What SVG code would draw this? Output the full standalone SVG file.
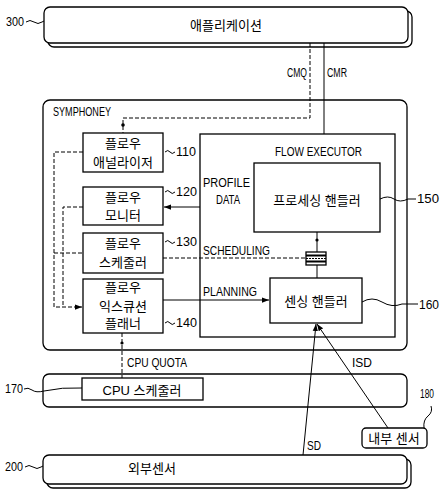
<svg xmlns="http://www.w3.org/2000/svg" width="444" height="500" viewBox="0 0 444 500">
<style>
  .box{fill:#fff;stroke:#000;stroke-width:1.3}
  .shadow{fill:none;stroke:#000;stroke-width:1.3}
  .ln{fill:none;stroke:#000;stroke-width:1}
  .dash{fill:none;stroke:#000;stroke-width:1;stroke-dasharray:4 2}
  .ko{font-family:"Liberation Sans","Noto Sans CJK KR",sans-serif;font-size:13px;fill:#000;text-anchor:middle;dominant-baseline:central}
  .en{font-family:"Liberation Sans","Noto Sans CJK KR",sans-serif;font-size:12px;fill:#000;dominant-baseline:central}
  .mid{text-anchor:middle}
</style>
<defs>
  <marker id="arr" viewBox="0 0 8 8" refX="8" refY="4" markerWidth="7" markerHeight="7" orient="auto" markerUnits="userSpaceOnUse">
    <path d="M0,1 L8,4 L0,7 z" fill="#000"/>
  </marker>
</defs>
<rect width="444" height="500" fill="#fff"/>

<g id="app300">
  <rect class="shadow" x="48" y="11" width="364" height="36" rx="6"/>
  <rect class="box" x="44" y="7" width="364" height="36" rx="6"/>
  <text class="ko" x="226" y="25">애플리케이션</text>
  <text class="en" x="6" y="22" textLength="18" lengthAdjust="spacingAndGlyphs">300</text>
  <path class="ln" d="M26,22 q4,-3 8,0 t8,0 l2,-1"/>
</g>

<g id="symphoney">
  <rect class="box" x="43" y="100" width="364" height="250" rx="7"/>
  <text class="en" x="53" y="112" textLength="58" lengthAdjust="spacingAndGlyphs">SYMPHONEY</text>
</g>

<g id="flowexecutor">
  <rect class="box" x="200" y="134" width="195" height="203"/>
  <text class="en" x="275" y="152" textLength="87" lengthAdjust="spacingAndGlyphs">FLOW EXECUTOR</text>
</g>

<g id="n110">
  <rect class="box" x="83" y="133" width="80" height="39"/>
  <text class="ko" x="123" y="143">플로우</text>
  <text class="ko" x="123" y="162">애널라이저</text>
  <path class="ln" d="M165,152 q3,-3 5,0 t5,0"/>
  <text class="en" x="176" y="152" textLength="20" lengthAdjust="spacingAndGlyphs">110</text>
</g>
<g id="n120">
  <rect class="box" x="83" y="187" width="80" height="38"/>
  <text class="ko" x="123" y="197">플로우</text>
  <text class="ko" x="123" y="215">모니터</text>
  <path class="ln" d="M165,192 q3,-3 5,0 t5,0"/>
  <text class="en" x="176" y="192" textLength="21" lengthAdjust="spacingAndGlyphs">120</text>
</g>
<g id="n130">
  <rect class="box" x="83" y="233" width="80" height="40"/>
  <text class="ko" x="123" y="243">플로우</text>
  <text class="ko" x="123" y="262">스케줄러</text>
  <path class="ln" d="M165,242 q3,-3 5,0 t5,0"/>
  <text class="en" x="176" y="242" textLength="21" lengthAdjust="spacingAndGlyphs">130</text>
</g>
<g id="n140">
  <rect class="box" x="83" y="279" width="80" height="54"/>
  <text class="ko" x="123" y="287">플로우</text>
  <text class="ko" x="123" y="306">익스큐션</text>
  <text class="ko" x="123" y="323">플래너</text>
  <path class="ln" d="M165,323 q3,-3 5,0 t5,0"/>
  <text class="en" x="176" y="323" textLength="21" lengthAdjust="spacingAndGlyphs">140</text>
</g>

<g id="n150">
  <rect class="box" x="254" y="163" width="126" height="69"/>
  <text class="ko" x="317" y="200">프로세싱 핸들러</text>
  <path class="ln" d="M380,199 q8,-4 14,0 t14,0 l8,0"/>
  <text class="en" x="417" y="199" textLength="22" lengthAdjust="spacingAndGlyphs">150</text>
</g>
<g id="queue">
  <rect class="box" x="306" y="252" width="20" height="13"/>
  <line x1="306" y1="255.5" x2="326" y2="255.5" stroke="#000" stroke-width="2"/>
  <line x1="306" y1="258.5" x2="326" y2="258.5" stroke="#000" stroke-width="1" stroke-dasharray="2 1"/>
  <line x1="306" y1="261.5" x2="326" y2="261.5" stroke="#000" stroke-width="2"/>
</g>
<g id="n160">
  <rect class="box" x="270" y="278" width="92" height="45"/>
  <text class="ko" x="316" y="301">센싱 핸들러</text>
  <path class="ln" d="M362,302 q10,-6 20,0 t20,2 l16,0"/>
  <text class="en" x="419" y="305" textLength="20" lengthAdjust="spacingAndGlyphs">160</text>
</g>

<g id="row170">
  <rect class="box" x="43" y="374" width="364" height="33" rx="6"/>
  <rect class="box" x="82" y="378" width="121" height="22"/>
  <text class="ko" x="142" y="390">CPU 스케줄러</text>
  <text class="en" x="5" y="389" textLength="18" lengthAdjust="spacingAndGlyphs">170</text>
  <path class="ln" d="M24,389 q4,-2 8,1 t12,1 q18,-4 38,-3"/>
</g>

<g id="n180">
  <rect class="box" x="362" y="428" width="65" height="20" rx="4"/>
  <text class="ko" x="394" y="438">내부 센서</text>
  <path class="ln" d="M424,428 q-1,-8 4,-12 t3,-10"/>
  <text class="en" x="420" y="394" textLength="14" lengthAdjust="spacingAndGlyphs">180</text>
</g>

<g id="ext200">
  <rect class="shadow" x="47" y="459" width="364" height="29" rx="6"/>
  <rect class="box" x="43" y="455" width="364" height="29" rx="6"/>
  <text class="ko" x="152" y="468">외부센서</text>
  <text class="en" x="5" y="467" textLength="18" lengthAdjust="spacingAndGlyphs">200</text>
  <path class="ln" d="M25,467 q4,-3 8,0 t8,0 l2,-1"/>
</g>

<g id="connectors">
  <!-- CMQ -->
  <path class="dash" d="M310,43 V118 H123 V133"/>
  <circle cx="123" cy="125" r="1.8" fill="#000"/>
  <text class="en" x="287" y="73" textLength="20" lengthAdjust="spacingAndGlyphs">CMQ</text>
  <!-- CMR -->
  <line class="ln" x1="324" y1="43" x2="324" y2="134"/>
  <text class="en" x="327" y="73" textLength="20" lengthAdjust="spacingAndGlyphs">CMR</text>
  <!-- left dashed loops -->
  <path class="dash" d="M83,152 H54 V307 H82" marker-end="url(#arr)"/>
  <path class="dash" d="M83,207 H63 V307"/>
  <path class="dash" d="M54,253 H83"/>
  <!-- profile data -->
  <line class="ln" x1="200" y1="207" x2="164" y2="207" marker-end="url(#arr)"/>
  <text class="en" x="203" y="183" textLength="47" lengthAdjust="spacingAndGlyphs">PROFILE</text>
  <text class="en" x="216" y="200" textLength="24" lengthAdjust="spacingAndGlyphs">DATA</text>
  <!-- scheduling -->
  <line class="dash" x1="163" y1="258" x2="306" y2="258"/>
  <text class="en" x="203" y="251" textLength="67" lengthAdjust="spacingAndGlyphs">SCHEDULING</text>
  <!-- planning -->
  <line class="ln" x1="163" y1="300" x2="269" y2="300" marker-end="url(#arr)"/>
  <text class="en" x="203" y="292" textLength="54" lengthAdjust="spacingAndGlyphs">PLANNING</text>
  <!-- queue links -->
  <line class="ln" x1="317" y1="232" x2="317" y2="252"/>
  <circle cx="317" cy="240" r="1.6" fill="#000"/>
  <line class="ln" x1="317" y1="265" x2="317" y2="278"/>
  <!-- CPU quota -->
  <line class="dash" x1="122" y1="333" x2="122" y2="378"/>
  <circle cx="122" cy="343" r="1.6" fill="#000"/>
  <text class="en" x="127" y="363" textLength="60" lengthAdjust="spacingAndGlyphs">CPU QUOTA</text>
  <!-- ISD -->
  <line class="ln" x1="388" y1="428" x2="317" y2="324" marker-end="url(#arr)"/>
  <text class="en" x="352" y="363" textLength="20" lengthAdjust="spacingAndGlyphs">ISD</text>
  <!-- SD -->
  <line class="ln" x1="303" y1="455" x2="316" y2="324" marker-end="url(#arr)"/>
  <text class="en" x="307" y="446" textLength="14" lengthAdjust="spacingAndGlyphs">SD</text>
</g>
</svg>
